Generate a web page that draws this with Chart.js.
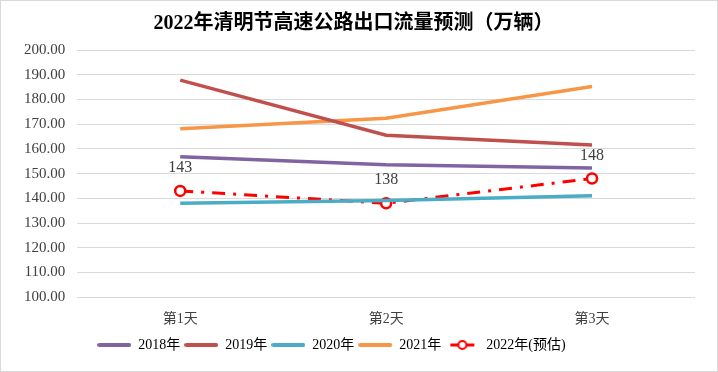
<!DOCTYPE html>
<html>
<head>
<meta charset="utf-8">
<script src="https://cdn.jsdelivr.net/npm/chart.js@4.4.1/dist/chart.umd.min.js"></script>
<style>
  html, body { margin: 0; padding: 0; background: #fff; }
  #wrap { width: 718px; height: 372px; position: relative; }
</style>
</head>
<body>
<div id="wrap"><canvas id="chart"></canvas></div>
<script>
const categories = ["第1天", "第2天", "第3天"];
const seriesNames = ["2018年", "2019年", "2020年", "2021年", "2022年(预估)"];
const values2018 = [156.8, 153.6, 152.3];
const values2019 = [187.8, 165.5, 161.6];
const values2020 = [138.0, 139.1, 141.0];
const values2021 = [168.1, 172.4, 185.2];
const values2022 = [143, 138, 148];
const yTicks = [100, 110, 120, 130, 140, 150, 160, 170, 180, 190, 200];

const FONT = "'Liberation Serif', 'Noto Sans CJK SC', serif";
const colors = ["#8064a2", "#c0504d", "#4bacc6", "#f79646", "#ff0000"];

// legend swatches
function lineSwatch(color) {
  const c = document.createElement("canvas");
  c.width = 34; c.height = 6;
  const ctx = c.getContext("2d");
  ctx.strokeStyle = color;
  ctx.lineWidth = 4;
  ctx.lineCap = "round";
  ctx.beginPath(); ctx.moveTo(2, 3); ctx.lineTo(32, 3); ctx.stroke();
  return c;
}
function markerSwatch(color) {
  const c = document.createElement("canvas");
  c.width = 26; c.height = 12;
  const ctx = c.getContext("2d");
  ctx.strokeStyle = color;
  ctx.lineWidth = 3;
  ctx.beginPath(); ctx.moveTo(1, 6); ctx.lineTo(25, 6); ctx.stroke();
  ctx.fillStyle = "#fff";
  ctx.lineWidth = 2;
  ctx.beginPath(); ctx.arc(13, 6, 4, 0, Math.PI * 2); ctx.fill(); ctx.stroke();
  return c;
}
const swatches = [
  lineSwatch(colors[0]), lineSwatch(colors[1]), lineSwatch(colors[2]),
  lineSwatch(colors[3]), markerSwatch(colors[4])
];

const frame = {
  id: "frame",
  beforeDraw(chart) {
    const ctx = chart.ctx;
    ctx.save();
    ctx.fillStyle = "#fff";
    ctx.fillRect(0, 0, chart.width, chart.height);
    ctx.strokeStyle = "#d9d9d9";
    ctx.lineWidth = 1;
    ctx.strokeRect(0.5, 0.5, chart.width - 1, chart.height - 1);
    ctx.restore();
  },
  // legend in the original sits a bit left of centre
  afterLayout(chart) {
    if (chart.legend) {
      chart.legend.left -= 22;
      chart.legend.right -= 22;
    }
  }
};

const labels2022 = {
  id: "labels2022",
  afterDatasetsDraw(chart) {
    const ctx = chart.ctx;
    const meta = chart.getDatasetMeta(4);
    ctx.save();
    ctx.font = "16px " + FONT;
    ctx.fillStyle = "#404040";
    ctx.textAlign = "center";
    ctx.textBaseline = "middle";
    meta.data.forEach((pt, i) => {
      ctx.fillText(String(values2022[i]), pt.x, pt.y - 23);
    });
    ctx.restore();
  }
};

const allSeries = [values2018, values2019, values2020, values2021];
const datasets = allSeries.map((vals, i) => ({
  label: seriesNames[i],
  data: vals,
  borderColor: colors[i],
  backgroundColor: colors[i],
  borderWidth: 3.5,
  pointRadius: 0,
  tension: 0,
}));
datasets.push({
  label: seriesNames[4],
  data: values2022,
  borderColor: colors[4],
  backgroundColor: "#fff",
  borderWidth: 3,
  borderDash: [13, 8, 3, 8],
  pointRadius: 5,
  pointBorderWidth: 2.5,
  pointBackgroundColor: "#fff",
  pointBorderColor: colors[4],
  tension: 0,
});

new Chart(document.getElementById("chart"), {
  type: "line",
  data: { labels: categories, datasets },
  plugins: [frame, labels2022],
  options: {
    responsive: true,
    maintainAspectRatio: false,
    animation: false,
    layout: { padding: { left: 12, right: 23, top: 0, bottom: 10 } },
    plugins: {
      title: {
        display: true,
        text: "2022年清明节高速公路出口流量预测（万辆）",
        color: "#000",
        font: { family: FONT, size: 20, weight: "bold" },
        padding: { top: 12, bottom: 14 },
      },
      legend: {
        position: "bottom",
        labels: {
          usePointStyle: true,
          pointStyleWidth: 34,
          boxHeight: 6,
          padding: 4,
          color: "#404040",
          font: { family: FONT, size: 14 },
          generateLabels(chart) {
            return chart.data.datasets.map((ds, i) => ({
              text: ds.label,
              pointStyle: swatches[i],
              fillStyle: colors[i],
              strokeStyle: colors[i],
              lineWidth: 0,
              hidden: false,
              datasetIndex: i,
            }));
          },
        },
      },
      tooltip: { enabled: false },
    },
    scales: {
      x: {
        offset: true,
        grid: { display: false },
        border: { display: false },
        ticks: { color: "#404040", font: { family: FONT, size: 14 }, padding: 6 },
      },
      y: {
        min: 100,
        max: 200,
        afterBuildTicks(axis) { axis.ticks = yTicks.map(v => ({ value: v })); },
        grid: { color: "#d9d9d9", lineWidth: 1, drawTicks: false },
        border: { display: false },
        ticks: {
          color: "#404040",
          font: { family: FONT, size: 15 },
          padding: 12,
          callback: v => v.toFixed(2),
        },
      },
    },
  },
});
</script>
</body>
</html>
